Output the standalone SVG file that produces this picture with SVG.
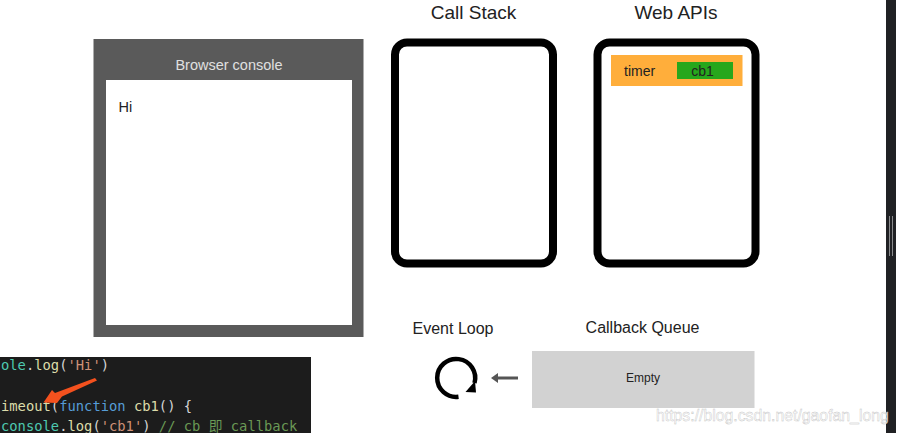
<svg xmlns="http://www.w3.org/2000/svg" width="898" height="433" viewBox="0 0 898 433">
<style>
text{font-family:"Liberation Sans",Arial,sans-serif;fill:#222}
.h{font-size:19px;text-anchor:middle}
.s{font-size:16px;text-anchor:middle}
.box{fill:#fff;stroke:#000;stroke-width:8}
.c{font-family:"DejaVu Sans Mono","Noto Sans CJK SC",monospace;font-size:13.8px}
</style>
<rect width="898" height="433" fill="#fff"/>
<g id="browser-console">
<rect x="93.500" y="39" width="270" height="298" fill="#5a5a5a"/>
<rect x="106" y="80" width="246" height="245" fill="#fff"/>
<text x="229" y="70" text-anchor="middle" font-size="14.500" style="fill:#e0e0e0">Browser console</text>
<text x="118.500" y="112" font-size="14.500">Hi</text>
</g>
<g id="call-stack">
<text class="h" x="473.500" y="19">Call Stack</text>
<rect class="box" x="395" y="42.500" width="158" height="221" rx="12"/>
</g>
<g id="web-apis">
<text class="h" x="676" y="19">Web APIs</text>
<rect class="box" x="597.500" y="42.500" width="158" height="221" rx="12"/>
<rect x="611" y="55" width="131.500" height="31" fill="#ffae3b"/>
<text x="624" y="75.500" font-size="14">timer</text>
<rect x="677" y="62" width="56" height="17" fill="#27a71c"/>
<text x="702.500" y="75.500" font-size="14" text-anchor="middle">cb1</text>
</g>
<g id="event-loop">
<text class="s" x="453" y="334">Event Loop</text>
<path d="M458.500 396.800A19 19 0 1 1 474.500 383" fill="none" stroke="#000" stroke-width="4.500"/>
<path d="M465.500 392L476 392.500L475 381Z" fill="#000"/>
</g>
<g id="callback-queue">
<text class="s" x="642.500" y="333">Callback Queue</text>
<rect x="532" y="351" width="222.500" height="57" fill="#d2d2d2"/>
<text x="643" y="382" font-size="12" text-anchor="middle">Empty</text>
</g>
<g id="connectors">
<path d="M518 378H496" stroke="#555" stroke-width="3" fill="none"/>
<path d="M491 378L498 373V383Z" fill="#555"/>
</g>
<g id="code">
<rect x="0" y="357" width="311" height="76" fill="#1c1c1c"/>
<text class="c" x="1" y="370"><tspan style="fill:#4ec9b0">ole</tspan><tspan style="fill:#d4d4d4">.</tspan><tspan style="fill:#dcdcaa">log</tspan><tspan style="fill:#d4d4d4">(</tspan><tspan style="fill:#ce9178">'Hi'</tspan><tspan style="fill:#d4d4d4">)</tspan></text>
<text class="c" x="1" y="411"><tspan style="fill:#dcdcaa">imeout</tspan><tspan style="fill:#d4d4d4">(</tspan><tspan style="fill:#569cd6">function</tspan><tspan style="fill:#dcdcaa"> cb1</tspan><tspan style="fill:#d4d4d4">() {</tspan></text>
<text class="c" x="1" y="431"><tspan style="fill:#4ec9b0">console</tspan><tspan style="fill:#d4d4d4">.</tspan><tspan style="fill:#dcdcaa">log</tspan><tspan style="fill:#d4d4d4">(</tspan><tspan style="fill:#ce9178">'cb1'</tspan><tspan style="fill:#d4d4d4">)</tspan><tspan style="fill:#6a9955"> // cb 即 callback</tspan></text>
<path d="M95 378L97 380.500L62 396.500L57 403L43.500 402.500L52 390L55 393Z" fill="#f4511e"/>
</g>
<g id="sidebar">
<rect x="886" y="0" width="10" height="433" fill="#202124"/>
<rect x="889" y="216" width="1" height="40" fill="#8a8b8d"/>
<rect x="892" y="216" width="1" height="40" fill="#8a8b8d"/>
</g>
<text x="656" y="421" font-size="15.800" style="fill:#fff;stroke:#bbb;stroke-width:.4" opacity=".9">https://blog.csdn.net/gaofan_long</text>
</svg>
